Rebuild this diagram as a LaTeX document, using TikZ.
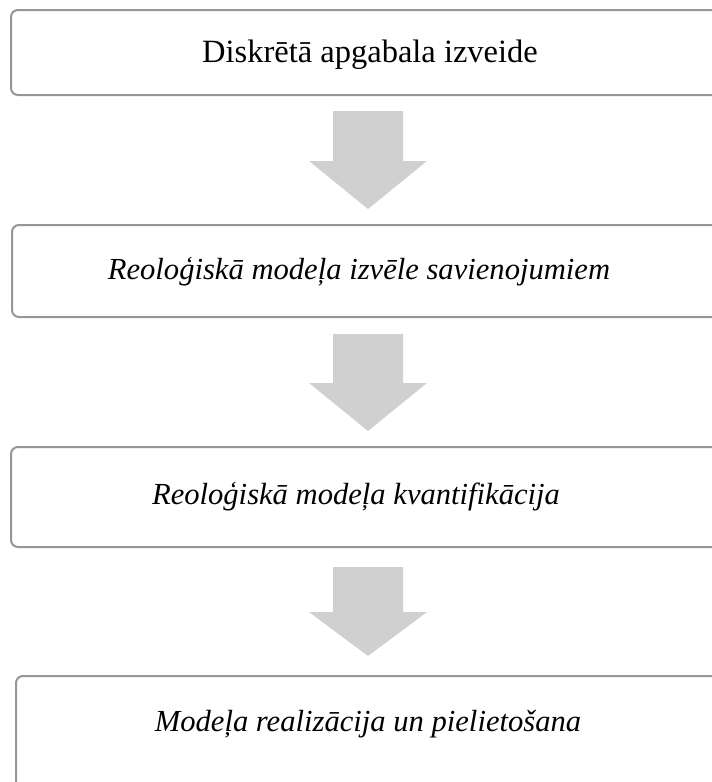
\documentclass[tikz,border=0pt]{standalone}
\usepackage{fontspec}
\setmainfont{Liberation Serif}
\definecolor{boxline}{HTML}{969696}
\definecolor{arrowfill}{HTML}{D0D0D0}
\begin{document}
\begin{tikzpicture}[x=1pt,y=-1pt,
  stagebox/.style={draw=boxline,line width=2pt,rounded corners=7pt,fill=white},
  stagetext/.style={font=\fontsize{30.6}{36}\selectfont\itshape,inner sep=0pt},
  blockarrow/.style={fill=arrowfill}]
\useasboundingbox (0,0) rectangle (712,782);
\clip (0,0) rectangle (712,782);
% boxes
\draw[stagebox] (11,10) rectangle (740,95);
\draw[stagebox] (12,225) rectangle (740,317);
\draw[stagebox] (11,447) rectangle (740,547);
\draw[stagebox] (16,676) rectangle (740,800);
% texts
\node[stagetext,font=\fontsize{32.5}{38}\selectfont\upshape] (t1) at (370,55) {Diskrētā apgabala izveide};
\node[stagetext] (t2) at (359,272) {Reoloģiskā modeļa izvēle savienojumiem};
\node[stagetext] (t3) at (356,497) {Reoloģiskā modeļa kvantifikācija};
\node[stagetext] (t4) at (368,724) {Modeļa realizācija un pielietošana};
% arrows
\fill[blockarrow] (333,111) -- (403,111) -- (403,161) -- (427,161) -- (368,209) -- (309,161) -- (333,161) -- cycle;
\fill[blockarrow] (333,334) -- (403,334) -- (403,383) -- (427,383) -- (368,431) -- (309,383) -- (333,383) -- cycle;
\fill[blockarrow] (333,567) -- (403,567) -- (403,612) -- (427,612) -- (368,656) -- (309,612) -- (333,612) -- cycle;
\end{tikzpicture}
\end{document}
